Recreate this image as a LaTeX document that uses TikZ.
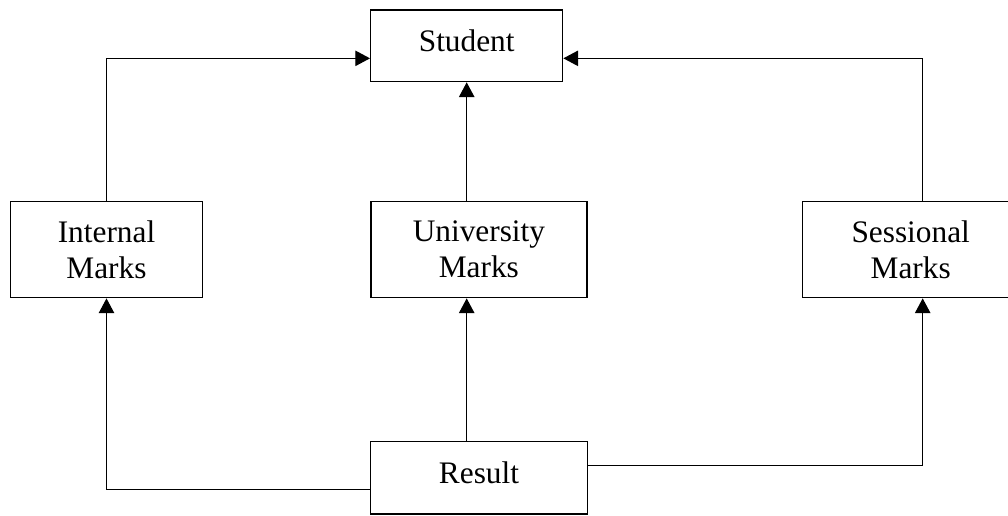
\documentclass[tikz,border=0pt]{standalone}
\usepackage{fontspec}
\setmainfont{Liberation Serif}
\usetikzlibrary{arrows.meta}

\tikzset{
	box/.style = {rectangle, draw = black, line width = 1pt, align = center,
		font = \fontsize{23.5}{27}\selectfont, inner sep = 0pt},
	oneline/.style = {text depth = 7.5pt},
	link/.style = {draw = black, line width = 0.9pt,
		-{Triangle[length = 11pt, width = 11.5pt]}}
}

\begin{document}
\begin{tikzpicture}[x = 0.75pt, y = -0.75pt]
	\useasboundingbox (0, 0) rectangle (1008, 515);
	\node (Student)    at (466.7,  45.8)	[box, oneline, minimum width = 144pt, minimum height = 53.8pt]	{Student};
	\node (Internal)   at (106.5, 249.7)	[box, minimum width = 144.4pt, minimum height = 72pt]	{Internal\\Marks};
	\node (University) at (478.9, 249.7)	[box, minimum width = 162pt, minimum height = 72pt]	{University\\Marks};
	\node (Sessional)  at (910.7, 249.7)	[box, minimum width = 162pt, minimum height = 72pt]	{Sessional\\Marks};
	\node (Result)     at (479.0, 477.9)	[box, oneline, minimum width = 162.5pt, minimum height = 54.2pt]	{Result};

	% upper links
	\draw [link] (Internal.north) |- ([yshift = -9.4pt]Student.west);
	\draw [link] ([xshift = 9pt]Sessional.north) |- ([yshift = -9.4pt]Student.east);
	\draw [link] (Student.south |- University.north) -- (Student.south);

	% lower links
	\draw [link] (Student.south |- Result.north) -- (Student.south |- University.south);
	\draw [link] ([yshift = -8.6pt]Result.west) -| (Internal.south);
	\draw [link] ([yshift = 9.4pt]Result.east) -| ([xshift = 9pt]Sessional.south);
\end{tikzpicture}
\end{document}
